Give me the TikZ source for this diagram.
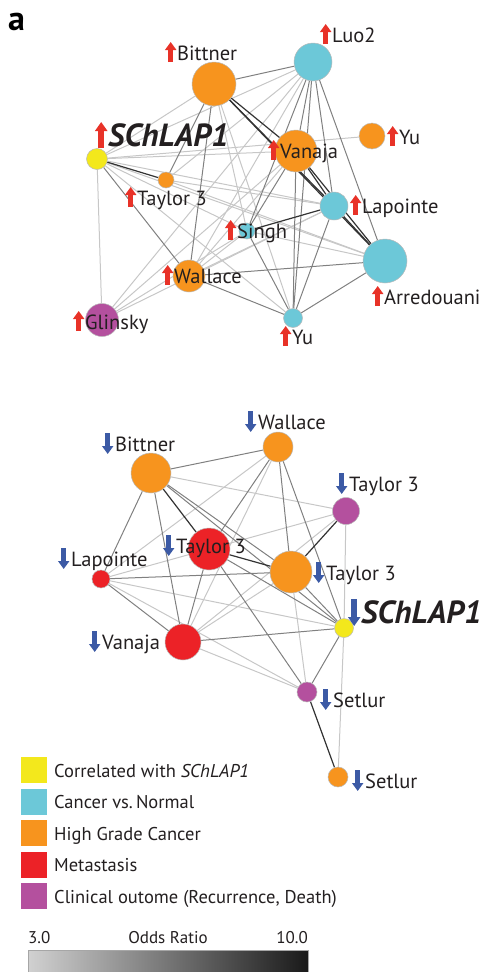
\documentclass[tikz,border=0pt]{standalone}
\usepackage{fontspec}
\setmainfont{PT Sans}
\usepackage{tikz}
\usetikzlibrary{arrows.meta, positioning, backgrounds}
\definecolor{cYellow}{RGB}{243,232,28}
\definecolor{cCyan}{RGB}{108,200,216}
\definecolor{cOrange}{RGB}{247,148,30}
\definecolor{cRed}{RGB}{236,34,39}
\definecolor{cPurple}{RGB}{180,80,158}
\definecolor{cUp}{RGB}{232,50,40}
\definecolor{cDown}{RGB}{60,90,165}
\definecolor{cText}{RGB}{35,31,32}
\newcommand{\upmark}{\tikz[baseline=0pt]\draw[cUp, line width=5pt, -{Triangle[width=11pt,length=8pt]}] (0pt,-2pt) -- (0pt,18pt);\hspace{1pt}}
\newcommand{\bigupmark}{\tikz[baseline=0pt]\draw[cUp, line width=5.5pt, -{Triangle[width=12pt,length=9pt]}] (0pt,-2pt) -- (0pt,24pt);\hspace{1pt}}
\newcommand{\downmark}{\tikz[baseline=0pt]\draw[cDown, line width=5pt, -{Triangle[width=11pt,length=8pt]}] (0pt,18pt) -- (0pt,-3pt);\hspace{2pt}}
\newcommand{\bigdownmark}{\tikz[baseline=0pt]\draw[cDown, line width=5.5pt, -{Triangle[width=12pt,length=9pt]}] (0pt,24pt) -- (0pt,-3pt);\hspace{1pt}}
\tikzset{
	gnode/.style   ={circle, draw=gray!55, line width=0.5pt, inner sep=0pt},
	yel/.style     ={gnode, fill=cYellow},
	cya/.style     ={gnode, fill=cCyan},
	ora/.style     ={gnode, fill=cOrange},
	rd/.style      ={gnode, fill=cRed},
	pur/.style     ={gnode, fill=cPurple},
	lbl/.style     ={anchor=base west, inner sep=0pt, font=\fontsize{20.5}{24}\selectfont},
	biglbl/.style  ={anchor=base west, inner sep=0pt, font=\fontsize{32}{34}\selectfont\bfseries\itshape},
	elight/.style  ={draw=black!22, line width=1pt},
	emid/.style    ={draw=black!50, line width=1pt},
	edark/.style   ={draw=black!80, line width=1.2pt},
	legbox/.style  ={rectangle, minimum size=26pt, inner sep=0pt},
	legtxt/.style  ={anchor=base west, inner sep=0pt, font=\fontsize{18.5}{20}\selectfont},
}
\begin{document}
\begin{tikzpicture}[x=1pt, y=-1pt, text=cText]
\useasboundingbox (0,0) rectangle (490,972);
\node[anchor=base west, inner sep=0pt, font=\fontsize{34}{34}\selectfont\bfseries, text=black] (panel) at (8,30) {a};

% upper network
\node[ora, minimum size=44pt] (tBit) at (214,84) {};
\node[cya, minimum size=38pt] (tLuo) at (313,62) {};
\node[yel, minimum size=21pt] (tSch) at (97,159) {};
\node[ora, minimum size=16pt] (tTay) at (166,180) {};
\node[ora, minimum size=42pt] (tVan) at (296,151) {};
\node[ora, minimum size=26pt] (tYuA) at (372,136) {};
\node[cya, minimum size=28pt] (tLap) at (334,206) {};
\node[cya, minimum size=16pt] (tSin) at (247,231) {};
\node[cya, minimum size=44pt] (tArr) at (385,261) {};
\node[ora, minimum size=32pt] (tWal) at (189,276) {};
\node[pur, minimum size=33pt] (tGli) at (102,320) {};
\node[cya, minimum size=19pt] (tYuB) at (293,318) {};

\begin{scope}[on background layer]
\foreach \a/\b in {tBit/tSch, tBit/tSin, tSch/tLuo, tSch/tVan, tSch/tYuA, tSch/tLap, tSch/tArr, tSch/tSin, tSch/tYuB, tSch/tGli, tTay/tArr, tTay/tLap, tLuo/tGli, tLuo/tWal, tLuo/tTay, tVan/tGli, tVan/tWal, tLap/tWal, tLap/tGli, tSin/tArr, tSin/tGli, tBit/tYuB, tWal/tSin}
	\draw[elight] (\a) -- (\b);
\foreach \a/\b in {tBit/tLuo, tBit/tTay, tBit/tWal, tLuo/tVan, tLuo/tLap, tLuo/tArr, tLuo/tSin, tLuo/tYuB, tVan/tSin, tVan/tYuB, tSch/tWal, tWal/tArr, tWal/tYuB, tSin/tYuB, tLap/tYuB, tArr/tYuB}
	\draw[emid] (\a) -- (\b);
\foreach \a/\b in {tBit/tVan, tBit/tLap, tBit/tArr, tVan/tLap, tVan/tArr, tLap/tArr, tSin/tLap, tSch/tTay}
	\draw[edark] (\a) -- (\b);
\end{scope}

\node[lbl] (tBitL) at (165,60) {\upmark Bittner};
\node[lbl] (tLuoL) at (320,42) {\upmark Luo2};
\node[biglbl] (tSchL) at (95,146) {\bigupmark SChLAP1};
\node[lbl] (tTayL) at (125,205) {\upmark Taylor 3};
\node[lbl] (tVanL) at (268,158) {\upmark Vanaja};
\node[lbl] (tYuAL) at (387,144) {\upmark Yu};
\node[lbl] (tLapL) at (350,213) {\upmark Lapointe};
\node[lbl] (tSinL) at (225,238) {\upmark Singh};
\node[lbl] (tArrL) at (372,304) {\upmark Arredouani};
\node[lbl] (tWalL) at (162,283) {\upmark Wallace};
\node[lbl] (tGliL) at (73,329) {\upmark Glinsky};
\node[lbl] (tYuBL) at (280,344) {\upmark Yu};

% lower network
\node[ora, minimum size=40pt] (bBit) at (151,473) {};
\node[ora, minimum size=30pt] (bWal) at (278,447) {};
\node[pur, minimum size=27pt] (bTayP) at (346,511) {};
\node[rd, minimum size=42pt] (bTayR) at (209,549) {};
\node[rd, minimum size=18pt] (bLap) at (101,579) {};
\node[ora, minimum size=42pt] (bTayO) at (291,572) {};
\node[yel, minimum size=19pt] (bSch) at (344,628) {};
\node[rd, minimum size=36pt] (bVan) at (183,642) {};
\node[pur, minimum size=20pt] (bSetP) at (307,692) {};
\node[ora, minimum size=20pt] (bSetO) at (338,777) {};

\begin{scope}[on background layer]
\foreach \a/\b in {bBit/bTayP, bWal/bLap, bWal/bVan, bTayP/bLap, bTayP/bSch, bTayP/bVan, bLap/bSch, bLap/bSetP, bTayO/bVan, bTayO/bSetP, bVan/bSetP, bSch/bSetO}
	\draw[elight] (\a) -- (\b);
\foreach \a/\b in {bBit/bWal, bBit/bTayO, bBit/bSch, bBit/bLap, bBit/bVan, bWal/bTayR, bWal/bTayO, bWal/bSch, bTayR/bSch, bTayR/bVan, bTayR/bSetP, bLap/bTayO, bLap/bVan, bVan/bSch, bSch/bSetP, bTayO/bSch}
	\draw[emid] (\a) -- (\b);
\foreach \a/\b in {bBit/bTayR, bTayR/bTayO, bTayP/bTayO, bSetP/bSetO}
	\draw[edark] (\a) -- (\b);
\end{scope}

\node[lbl] (bBitL) at (102,451) {\downmark Bittner};
\node[lbl] (bWalL) at (245,429) {\downmark Wallace};
\node[lbl] (bTayPL) at (336,491) {\downmark Taylor 3};
\node[lbl] (bTayRL) at (163,553) {\downmark Taylor 3};
\node[lbl] (bLapL) at (58,566) {\downmark Lapointe};
\node[lbl] (bTayOL) at (313,580) {\downmark Taylor 3};
\node[biglbl] (bSchL) at (348,623) {\bigdownmark SChLAP1};
\node[lbl] (bVanL) at (89,649) {\downmark Vanaja};
\node[lbl] (bSetPL) at (320,707) {\downmark Setlur};
\node[lbl] (bSetOL) at (352,788) {\downmark Setlur};

% legend
\foreach \c/\t [count=\i from 0] in {cYellow/{Correlated with \textit{SChLAP1}}, cCyan/{Cancer vs.\,Normal}, cOrange/{High Grade Cancer}, cRed/{Metastasis}, cPurple/{Clinical outome (Recurrence, Death)}}
{
	\node[legbox, fill=\c] (leg\i) at (34,770+31.5*\i) {};
	\node[legtxt] (legt\i) at (54,777+31.5*\i) {\t};
}

% odds ratio bar
\node[anchor=base west, inner sep=0pt, font=\fontsize{17}{18}\selectfont] (orLo) at (28,943) {3.0};
\node[anchor=base, inner sep=0pt, font=\fontsize{17}{18}\selectfont] (orMid) at (168,943) {Odds Ratio};
\node[anchor=base east, inner sep=0pt, font=\fontsize{17}{18}\selectfont] (orHi) at (308,943) {10.0};
\draw[gray!70, line width=0.8pt, left color=black!18, right color=black!90] (28,950) rectangle (308,978);
\end{tikzpicture}
\end{document}
